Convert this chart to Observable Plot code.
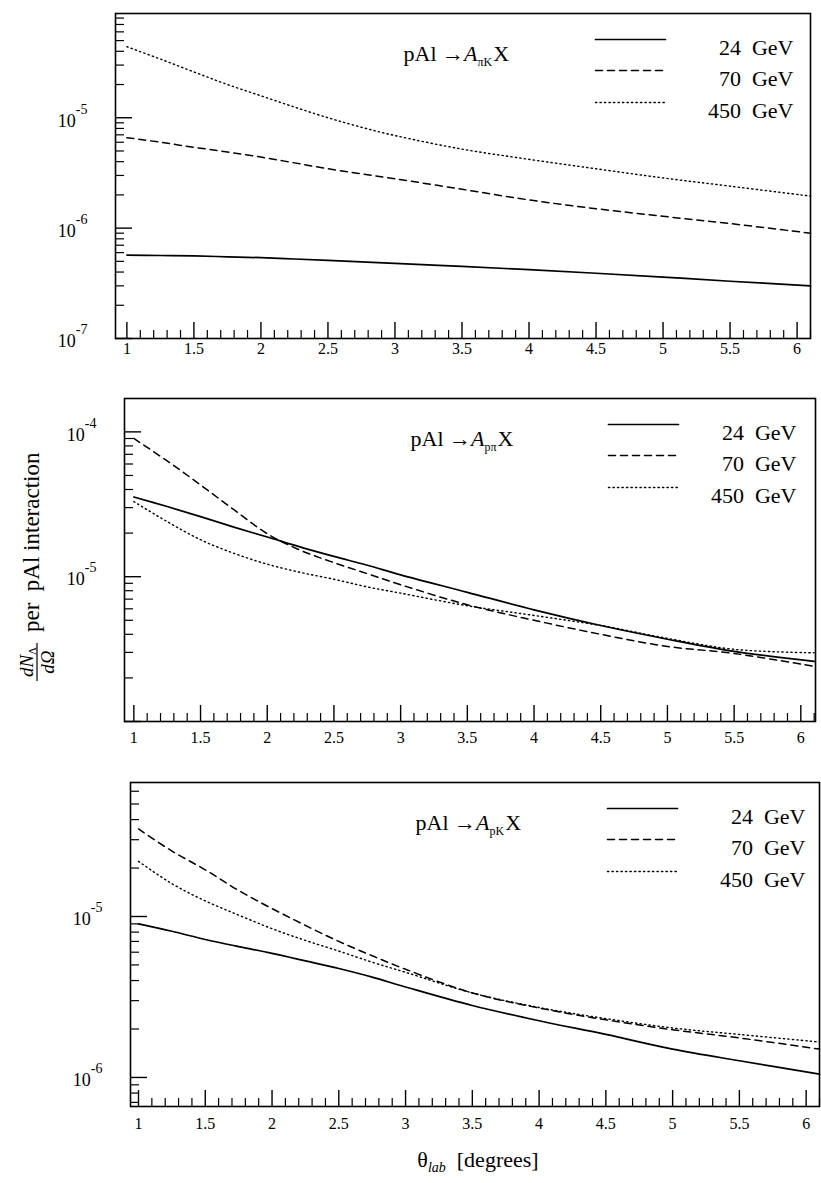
<!DOCTYPE html>
<html>
<head>
<meta charset="utf-8">
<script src="https://cdn.jsdelivr.net/npm/d3@7"></script>
<script src="https://cdn.jsdelivr.net/npm/@observablehq/plot@0.6"></script>
<style>
html, body { margin: 0; padding: 0; background: #fff; }
#page { position: relative; width: 821px; height: 1183px; overflow: hidden; background: #fff;
  font-family: "Liberation Serif", "Times New Roman", "DejaVu Serif", serif; color: #000; }
#page svg { position: absolute; left: 0; overflow: visible; }
</style>
</head>
<body>
<div id="page"></div>
<script>
// ---------------- data ----------------
const xGrid = [1, 1.25, 1.5, 1.75, 2, 2.25, 2.5, 2.75, 3, 3.5, 4, 4.5, 5, 5.5, 6.1];

const energies = ["24", "70", "450"];
const legendLabels = ["24\u00a0\u00a0GeV", "70\u00a0\u00a0GeV", "450\u00a0\u00a0GeV"];
const xTickLabels = [1, 1.5, 2, 2.5, 3, 3.5, 4, 4.5, 5, 5.5, 6];

// panel 1 : pAl -> A_{pi K} X
const piK24  = [5.7e-7, 5.65e-7, 5.6e-7, 5.5e-7, 5.4e-7, 5.25e-7, 5.1e-7, 4.95e-7, 4.8e-7, 4.5e-7, 4.2e-7, 3.9e-7, 3.6e-7, 3.3e-7, 3.0e-7];
const piK70  = [6.6e-6, 6.0e-6, 5.4e-6, 4.9e-6, 4.4e-6, 3.9e-6, 3.45e-6, 3.1e-6, 2.8e-6, 2.25e-6, 1.8e-6, 1.5e-6, 1.28e-6, 1.1e-6, 9.0e-7];
const piK450 = [4.4e-5, 3.4e-5, 2.6e-5, 2.0e-5, 1.58e-5, 1.25e-5, 1.0e-5, 8.2e-6, 6.9e-6, 5.2e-6, 4.2e-6, 3.45e-6, 2.85e-6, 2.4e-6, 1.95e-6];

// panel 2 : pAl -> A_{p pi} X
const pPi24  = [3.55e-5, 3.05e-5, 2.6e-5, 2.2e-5, 1.88e-5, 1.6e-5, 1.38e-5, 1.2e-5, 1.03e-5, 7.8e-6, 5.9e-6, 4.6e-6, 3.7e-6, 3.05e-6, 2.6e-6];
const pPi70  = [9.0e-5, 6.3e-5, 4.3e-5, 2.9e-5, 1.98e-5, 1.52e-5, 1.25e-5, 1.05e-5, 8.8e-6, 6.4e-6, 5.0e-6, 4.0e-6, 3.3e-6, 2.95e-6, 2.4e-6];
const pPi450 = [3.3e-5, 2.4e-5, 1.8e-5, 1.45e-5, 1.22e-5, 1.07e-5, 9.6e-6, 8.5e-6, 7.7e-6, 6.3e-6, 5.4e-6, 4.6e-6, 3.75e-6, 3.15e-6, 2.98e-6];

// panel 3 : pAl -> A_{pK} X
const pK24  = [9.0e-6, 8.1e-6, 7.2e-6, 6.5e-6, 5.9e-6, 5.3e-6, 4.75e-6, 4.2e-6, 3.65e-6, 2.8e-6, 2.25e-6, 1.85e-6, 1.5e-6, 1.27e-6, 1.05e-6];
const pK70  = [3.5e-5, 2.55e-5, 1.95e-5, 1.45e-5, 1.12e-5, 8.8e-6, 7.0e-6, 5.7e-6, 4.7e-6, 3.35e-6, 2.7e-6, 2.28e-6, 1.98e-6, 1.76e-6, 1.5e-6];
const pK450 = [2.2e-5, 1.6e-5, 1.25e-5, 1.02e-5, 8.4e-6, 7.1e-6, 6.1e-6, 5.2e-6, 4.5e-6, 3.35e-6, 2.72e-6, 2.32e-6, 2.03e-6, 1.85e-6, 1.66e-6];

// y-axis labelled decades per panel
const yLabels1 = [1e-7, 1e-6, 1e-5];
const yLabels2 = [1e-5, 1e-4];
const yLabels3 = [1e-6, 1e-5];
const titles = [
  {pre: "pAl \u2192", sym: "A", sub: "\u03c0K", post: "X"},
  {pre: "pAl \u2192", sym: "A", sub: "p\u03c0", post: "X"},
  {pre: "pAl \u2192", sym: "A", sub: "pK", post: "X"}
];

// ---------------- helpers ----------------
const FONT = "'Liberation Serif', 'Times New Roman', 'DejaVu Serif', serif";
const styles = [
  {dash: undefined, w: 1.7},
  {dash: "7,5", w: 1.5},
  {dash: "1.3,3.2", w: 1.4}
];
const segShape = {draw(ctx, l) { ctx.moveTo(0, 0); ctx.lineTo(0, -l); }};

function decadesIn([lo, hi]) {
  const out = [];
  for (let e = Math.floor(Math.log10(lo)); e <= Math.ceil(Math.log10(hi)); e++) {
    const v = Math.pow(10, e);
    if (v >= lo * 0.999 && v <= hi * 1.001) out.push(v);
  }
  return out;
}
function minorsIn([lo, hi]) {
  const out = [];
  for (let e = Math.floor(Math.log10(lo)); e <= Math.ceil(Math.log10(hi)); e++) {
    for (let k = 2; k <= 9; k++) {
      const v = k * Math.pow(10, e);
      if (v > lo && v < hi) out.push(v);
    }
  }
  return out;
}
function xMinorsIn([lo, hi]) {
  const out = [];
  for (let i = Math.ceil(lo * 10); i <= Math.floor(hi * 10); i++) {
    if (i % 5 !== 0) out.push(i / 10);
  }
  return out;
}

function svgEl(name) { return document.createElementNS("http://www.w3.org/2000/svg", name); }

function panel(cfg) {
  const rows = (arr) => xGrid.map((x, i) => ({x, y: arr[i]}));
  const rowDy = [26, 57, 89];
  const titleText = cfg.title.pre + cfg.title.sym + cfg.title.sub + cfg.title.post;
  const marks = [
    Plot.frame({stroke: "black", strokeWidth: 1.6}),
    Plot.axisY(minorsIn(cfg.yDomain), {anchor: "left", tickSize: -9, tickFormat: () => "", label: null, strokeWidth: 1.2}),
    Plot.axisY(decadesIn(cfg.yDomain), {anchor: "left", tickSize: -17, tickFormat: () => "", label: null, strokeWidth: 1.4}),
    Plot.axisY(cfg.yLabels, {anchor: "left", tickSize: 0, tickPadding: 28, dy: 3, fontSize: 18,
      tickFormat: d => "10^" + Math.round(Math.log10(d)), label: null}),
    Plot.axisX(xMinorsIn(cfg.xDomain), {anchor: "bottom", tickSize: -8, tickFormat: () => "", label: null, strokeWidth: 1.2}),
    Plot.axisX(xTickLabels, {anchor: "bottom", tickSize: -16, tickFormat: () => "", label: null, strokeWidth: 1.4}),
    Plot.axisX(xTickLabels, {anchor: "bottom", tickSize: 0, tickPadding: cfg.xPad, fontSize: 16,
      tickFormat: d => String(d), label: null})
  ];
  cfg.series.forEach((arr, j) => {
    marks.push(Plot.line(rows(arr), {x: "x", y: "y", stroke: "black", strokeWidth: styles[j].w,
      strokeDasharray: styles[j].dash, curve: "catmull-rom"}));
    marks.push(Plot.vector([0], {frameAnchor: "top-right", dx: cfg.lineDx, dy: rowDy[j], length: 70, rotate: 90,
      anchor: "start", shape: segShape, stroke: "black", strokeWidth: styles[j].w, strokeDasharray: styles[j].dash}));
    marks.push(Plot.text([legendLabels[j]], {frameAnchor: "top-right", dx: cfg.textDx, dy: rowDy[j],
      textAnchor: "end", fontSize: 22, text: d => d, fill: "black"}));
  });
  marks.push(Plot.text([titleText], {frameAnchor: "top-right", dx: cfg.titleDx, dy: 32,
    textAnchor: "start", fontSize: 22, text: d => d, fill: "black"}));

  const svg = Plot.plot({
    width: 821, height: cfg.height,
    marginTop: cfg.mt, marginBottom: cfg.mb, marginLeft: cfg.ml, marginRight: cfg.mr,
    x: {domain: cfg.xDomain},
    y: {type: "log", domain: cfg.yDomain},
    style: {fontFamily: FONT, background: "transparent", color: "black"},
    marks
  });

  // rich text: superscript exponents and subscripted title; drop empty tick texts
  svg.querySelectorAll("text").forEach(t => {
    const txt = t.textContent;
    const m = /^10\^(-?\d+)$/.exec(txt);
    if (txt === "") {
      t.remove();
    } else if (m) {
      t.textContent = "10";
      const s = svgEl("tspan");
      s.setAttribute("dx", "0");
      s.setAttribute("dy", "-13");
      s.setAttribute("font-size", "14");
      s.textContent = m[1];
      t.appendChild(s);
    } else if (txt === titleText) {
      t.textContent = "";
      const a = svgEl("tspan"); a.textContent = cfg.title.pre; t.appendChild(a);
      const b = svgEl("tspan"); b.textContent = cfg.title.sym; b.setAttribute("font-style", "italic"); t.appendChild(b);
      const c = svgEl("tspan"); c.textContent = cfg.title.sub; c.setAttribute("font-size", "12"); c.setAttribute("dy", "5"); t.appendChild(c);
      const d = svgEl("tspan"); d.textContent = cfg.title.post; d.setAttribute("dy", "-5"); d.setAttribute("dx", "1"); t.appendChild(d);
    }
  });
  svg.style.top = cfg.top + "px";
  svg.style.whiteSpace = "pre";
  return svg;
}

const page = document.getElementById("page");

page.appendChild(panel({
  top: 0, height: 370, mt: 13, mb: 32, ml: 115, mr: 11,
  xDomain: [0.915, 6.1], yDomain: [1e-7, 8.8e-5], yLabels: yLabels1, xPad: 4,
  series: [piK24, piK70, piK450], title: titles[0],
  lineDx: -215, textDx: -17, titleDx: -407
}));
page.appendChild(panel({
  top: 370, height: 385, mt: 28, mb: 34, ml: 124, mr: 6,
  xDomain: [0.93, 6.11], yDomain: [1e-6, 1.7e-4], yLabels: yLabels2, xPad: 10,
  series: [pPi24, pPi70, pPi450], title: titles[1],
  lineDx: -207, textDx: -19, titleDx: -405
}));
page.appendChild(panel({
  top: 755, height: 428, mt: 27, mb: 77, ml: 130, mr: 2,
  xDomain: [0.94, 6.1], yDomain: [6.6e-7, 6.8e-5], yLabels: yLabels3, xPad: 11,
  series: [pK24, pK70, pK450], title: titles[2],
  lineDx: -212, textDx: -14, titleDx: -404
}));

// ---------------- axis titles (overlay) ----------------
const ov = d3.create("svg").attr("width", 821).attr("height", 1183).style("top", "0px")
  .attr("font-family", FONT).attr("fill", "black");

// y title, rotated
const g = ov.append("g").attr("transform", "translate(37,662) rotate(-90)");
g.append("line").attr("x1", -19).attr("x2", 19).attr("y1", 0).attr("y2", 0).attr("stroke", "black").attr("stroke-width", 1.2);
const num = g.append("text").attr("x", 0).attr("y", -4).attr("text-anchor", "middle").attr("font-size", 19);
num.append("tspan").attr("font-style", "italic").text("dN");
num.append("tspan").attr("font-size", 11).attr("dy", 3).text("\u039b");
const den = g.append("text").attr("x", 0).attr("y", 17).attr("text-anchor", "middle").attr("font-size", 19);
den.append("tspan").attr("font-style", "italic").text("d\u03a9");
g.append("text").attr("x", 30).attr("y", 2).attr("font-size", 23).attr("text-anchor", "start")
  .style("white-space", "pre").text("per  pAl interaction");

// x title
const xt = ov.append("text").attr("x", 478).attr("y", 1167).attr("text-anchor", "middle").attr("font-size", 22)
  .style("white-space", "pre");
xt.append("tspan").text("\u03b8");
xt.append("tspan").attr("font-style", "italic").attr("font-size", 14).attr("dy", 5).text("lab");
xt.append("tspan").attr("dy", -5).text("  [degrees]");

page.appendChild(ov.node());
</script>
</body>
</html>
